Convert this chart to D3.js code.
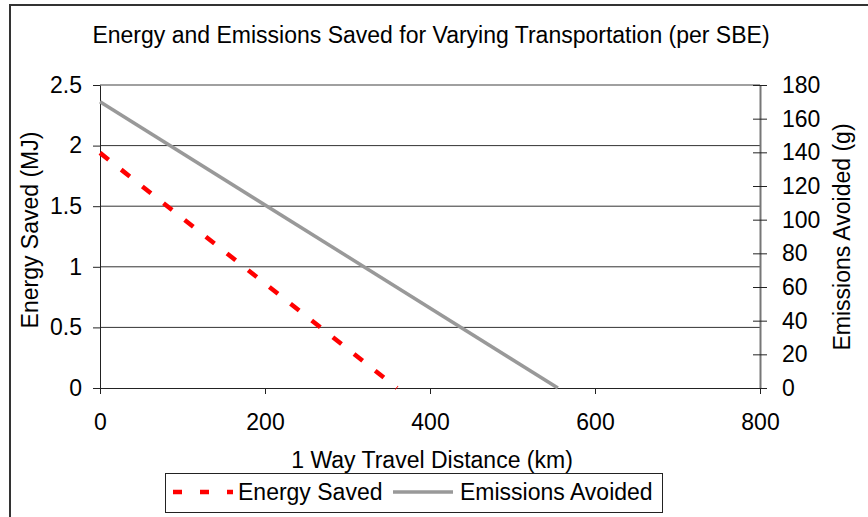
<!DOCTYPE html>
<html>
<head>
<meta charset="utf-8">
<script src="https://cdn.jsdelivr.net/npm/d3@7"></script>
<style>
	body { margin: 0; background: #fff; }
	text { font-family: "Liberation Sans", Arial, sans-serif; fill: #000; }
</style>
</head>
<body>
<div id="chart"></div>
<script>
// chart data
var distance = [0, 800];
var energyPoints = [[0, 1.94], [360, 0]];
var emissionPoints = [[0, 170], [555, 0]];
var xTicks = [0, 200, 400, 600, 800];
var leftTicks = [0, 0.5, 1, 1.5, 2, 2.5];
var rightTicks = [0, 20, 40, 60, 80, 100, 120, 140, 160, 180];

var width = 868;
var height = 517;
var margin = {
	'top': 85,
	'bottom': 129,
	'left': 100,
	'right': 108,
};

var svg = d3.select('#chart').append('svg')
	.attr('width', width)
	.attr('height', height);

// outer frame (left + top edges visible)
svg.append('path')
	.attr('d', 'M10,' + height + 'V5H' + width)
	.attr('fill', 'none')
	.attr('stroke', '#333')
	.attr('stroke-width', 2);

var scaleX = d3.scaleLinear()
	.domain(d3.extent(distance))
	.range([margin.left, width - margin.right]);
var scaleLeft = d3.scaleLinear()
	.domain([0, 2.5])
	.range([height - margin.bottom, margin.top]);
var scaleRight = d3.scaleLinear()
	.domain([0, 180])
	.range([height - margin.bottom, margin.top]);

// gridlines
svg.append('g')
	.selectAll('line')
	.data(leftTicks.slice(1))
	.enter().append('line')
	.attr('x1', scaleX(0))
	.attr('x2', scaleX(800))
	.attr('y1', function(d) { return scaleLeft(d); })
	.attr('y2', function(d) { return scaleLeft(d); })
	.attr('stroke', function(d) { return d == 2.5 ? '#a0a0a0' : '#333'; })
	.attr('stroke-width', function(d) { return d == 2.5 ? 2 : 1; });

// axes
var xAxisCall = d3.axisBottom(scaleX).tickValues(xTicks).tickSize(6).tickPadding(20).tickSizeOuter(0);
var leftAxisCall = d3.axisLeft(scaleLeft).tickValues(leftTicks).tickSize(7).tickPadding(11).tickSizeOuter(0)
	.tickFormat(function(d) { return String(d); });
var rightAxisCall = d3.axisRight(scaleRight).tickValues(rightTicks).tickSize(7).tickPadding(15).tickSizeOuter(0);

var xAxis = svg.append('g')
	.attr('transform', 'translate(0,' + (height - margin.bottom) + ')')
	.call(xAxisCall);
var leftAxis = svg.append('g')
	.attr('transform', 'translate(' + margin.left + ',0)')
	.call(leftAxisCall);
var rightAxis = svg.append('g')
	.attr('transform', 'translate(' + (width - margin.right) + ',0)')
	.call(rightAxisCall);

[xAxis, leftAxis, rightAxis].forEach(function(a) {
	a.selectAll('text').style('font-size', '23px').attr('fill', '#000');
	a.selectAll('line').attr('stroke', '#222');
	a.select('.domain').attr('stroke', '#222');
});
// right axis ticks cross the axis line
rightAxis.selectAll('.tick line').attr('x1', -7);
rightAxis.select('.domain').attr('stroke', '#777').attr('stroke-width', 2);

// lines
var line = d3.line()
	.x(function(d) { return scaleX(d[0]); });

svg.append('path')
	.datum(emissionPoints)
	.attr('d', line.y(function(d) { return scaleRight(d[1]); }))
	.attr('fill', 'none')
	.attr('stroke', '#999')
	.attr('stroke-width', 3.5);

svg.append('path')
	.datum(energyPoints)
	.attr('d', line.y(function(d) { return scaleLeft(d[1]); }))
	.attr('fill', 'none')
	.attr('stroke', '#ff0000')
	.attr('stroke-width', 4.5)
	.attr('stroke-dasharray', '11,16');

// titles
svg.append('text')
	.attr('x', 431)
	.attr('y', 43)
	.attr('text-anchor', 'middle')
	.style('font-size', '23px')
	.text('Energy and Emissions Saved for Varying Transportation (per SBE)');

svg.append('text')
	.attr('x', 432)
	.attr('y', 468)
	.attr('text-anchor', 'middle')
	.style('font-size', '23px')
	.text('1 Way Travel Distance (km)');

svg.append('text')
	.attr('transform', 'translate(38,' + 230 + ') rotate(-90)')
	.attr('text-anchor', 'middle')
	.style('font-size', '23px')
	.text('Energy Saved (MJ)');

svg.append('text')
	.attr('transform', 'translate(850,' + 237 + ') rotate(-90)')
	.attr('text-anchor', 'middle')
	.style('font-size', '23px')
	.text('Emissions Avoided (g)');

// legend
var legend = svg.append('g');
legend.append('rect')
	.attr('x', 165.5)
	.attr('y', 473.5)
	.attr('width', 497)
	.attr('height', 39)
	.attr('fill', '#fff')
	.attr('stroke', '#222')
	.attr('stroke-width', 1);
legend.append('line')
	.attr('x1', 173).attr('x2', 233)
	.attr('y1', 492).attr('y2', 492)
	.attr('stroke', '#ff0000')
	.attr('stroke-width', 4.5)
	.attr('stroke-dasharray', '9,18');
legend.append('text')
	.attr('x', 238).attr('y', 500)
	.style('font-size', '23px')
	.text('Energy Saved');
legend.append('line')
	.attr('x1', 393).attr('x2', 453)
	.attr('y1', 492).attr('y2', 492)
	.attr('stroke', '#999')
	.attr('stroke-width', 3.5);
legend.append('text')
	.attr('x', 460).attr('y', 500)
	.style('font-size', '23px')
	.text('Emissions Avoided');
</script>
</body>
</html>
